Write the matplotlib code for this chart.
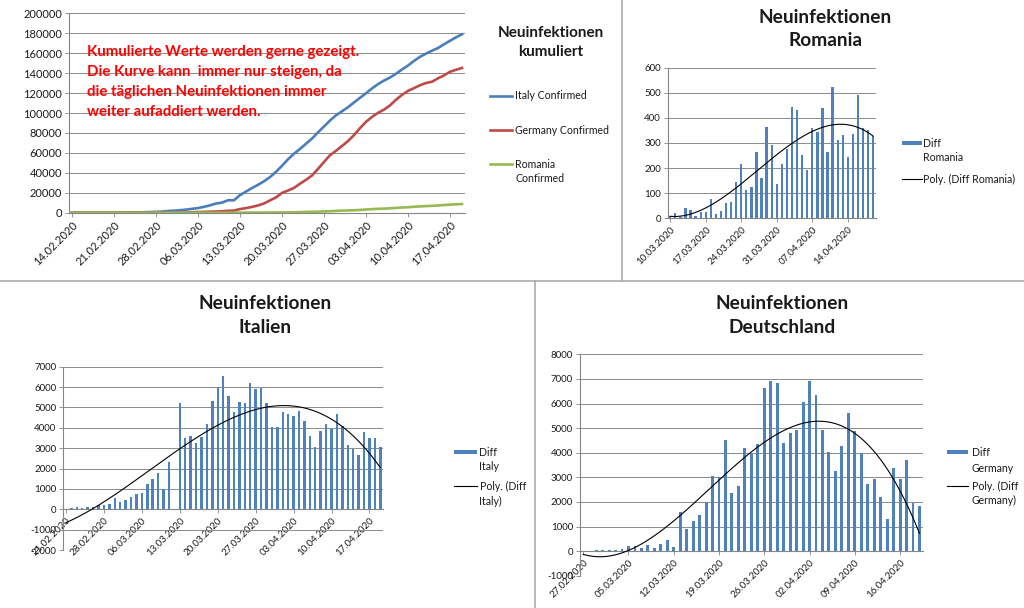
import numpy as np
import pandas as pd
import matplotlib
matplotlib.use("Agg")
import matplotlib.pyplot as plt
from matplotlib import ticker
from matplotlib.lines import Line2D
from matplotlib.patches import Rectangle

# cumulative confirmed cases, one value per day 14.02.2020 .. 19.04.2020
dates = pd.date_range("2020-02-14", "2020-04-19", freq="D")

italy_confirmed = [
    3, 3, 3, 3, 3, 3, 3, 20, 62, 155, 229, 322, 453, 655, 888, 1128,
    1694, 2036, 2502, 3089, 3858, 4636, 5883, 7375, 9172, 10149, 12462, 12462,
    17660, 21157, 24747, 27980, 31506, 35713, 41035, 47021, 53578, 59138, 63927,
    69176, 74386, 80589, 86498, 92472, 97689, 101739, 105792,
    110574, 115242, 119827, 124632, 128948, 132547, 135586, 139422, 143626,
    147577, 152271, 156363, 159516, 162488, 165155, 168941, 172434, 175925, 178972]

germany_confirmed = [
    16, 16, 16, 16, 16, 16, 16, 16, 16, 16, 16, 17, 27, 46, 48, 79,
    130, 159, 196, 262, 482, 670, 799, 1040, 1176, 1457, 1908, 2078,
    3675, 4585, 5795, 7272, 9257, 12327, 15320, 19848, 22213, 24873, 29056,
    32986, 37323, 43938, 50871, 57695, 62095, 66885, 71808,
    77872, 84794, 91159, 96092, 100123, 103374, 107663, 113296, 118181,
    122171, 124908, 127854, 130072, 131359, 134753, 137698, 141397, 143342, 145184]

romania_confirmed = [
    0, 0, 0, 0, 0, 0, 0, 0, 0, 0, 0, 0, 1, 1, 3, 3,
    3, 3, 3, 4, 6, 9, 9, 15, 15, 25, 45, 49,
    89, 123, 131, 158, 184, 260, 277, 308, 367, 433, 576,
    794, 906, 1029, 1292, 1452, 1815, 2109, 2245,
    2460, 2738, 3183, 3613, 3864, 4057, 4417, 4761, 5202,
    5467, 5990, 6300, 6633, 6879, 7216, 7707, 8067, 8418, 8746]

# first day of each daily-difference chart
italy_start = "2020-02-21"
germany_start = "2020-02-27"
romania_start = "2020-03-10"

trend_degree = 3

plt.rcParams['font.family'] = ['Lato', 'DejaVu Sans']
plt.rcParams['axes.unicode_minus'] = False

W, H = 1024, 608
BLUE_BAR = '#4F81BD'
GRID = '#8C8C8C'
AXIS = '#868686'
TXT = '#1A1A1A'
SEP = '#A6A6A6'
LEG_FS = 7.6

fig = plt.figure(figsize=(W / 100, H / 100), dpi=100)
fig.patch.set_facecolor('white')


def add_ax(x0, y0, x1, y1):
    return fig.add_axes([x0 / W, 1 - y1 / H, (x1 - x0) / W, (y1 - y0) / H])


def fig_text(x, y, s, **kw):
    fig.text(x / W, 1 - y / H, s, **kw)


def fig_line(x0, y0, x1, y1, color, lw):
    fig.add_artist(Line2D([x0 / W, x1 / W], [1 - y0 / H, 1 - y1 / H], color=color, lw=lw))


def fig_patch(x0, x1, y, h, color):
    fig.add_artist(Rectangle((x0 / W, 1 - (y + h / 2) / H), (x1 - x0) / W, h / H,
                             facecolor=color, edgecolor='none'))


def style_axis(ax, day_labels, ylim, ystep, fs):
    n = len(day_labels)
    ax.set_xlim(-0.5, n - 0.5)
    ax.set_ylim(*ylim)
    ax.set_yticks(np.arange(ylim[0], ylim[1] + 1, ystep))
    ax.yaxis.set_major_formatter(ticker.FuncFormatter(lambda v, p: '%d' % v))
    ax.yaxis.grid(True, color=GRID, lw=0.7)
    ax.set_axisbelow(True)
    ax.set_facecolor('white')
    for s in ['top', 'right']:
        ax.spines[s].set_visible(False)
    ax.spines['left'].set_color(AXIS)
    ax.spines['bottom'].set_color(AXIS)
    ax.spines['bottom'].set_position(('data', 0))
    pos = list(range(0, n, 7))
    ax.set_xticks(pos)
    ax.set_xticklabels([day_labels[i] for i in pos], rotation=45, ha='right', va='top',
                       rotation_mode='anchor')
    ax.tick_params(axis='both', labelsize=fs, color=AXIS, labelcolor=TXT, length=3, width=0.6, pad=2)


# ---------------- cumulative chart ----------------
labels_all = [d.strftime('%d.%m.%Y') for d in dates]
ax = add_ax(69, 13.3, 465, 212.7)
x = np.arange(len(dates))
ax.plot(x, italy_confirmed, color='#4A7EBB', lw=1.9, label='Italy Confirmed')
ax.plot(x, germany_confirmed, color='#BE4B48', lw=1.9, label='Germany Confirmed')
ax.plot(x, romania_confirmed, color='#98B954', lw=1.9, label='Romania Confirmed')
style_axis(ax, labels_all, (0, 200000), 20000, 8)

fig_text(87, 82, 'Kumulierte Werte werden gerne gezeigt.\nDie Kurve kann  immer nur steigen, da\n'
         'die täglichen Neuinfektionen immer\nweiter aufaddiert werden.',
         color='#FF0000', fontsize=10.8, fontweight='bold', ha='left', va='center', linespacing=1.54)

fig_text(551, 42.5, 'Neuinfektionen\nkumuliert', fontsize=11, fontweight='bold', color=TXT,
         ha='center', va='center', linespacing=1.53)
fig_line(490, 95.5, 512, 95.5, '#4A7EBB', 1.9)
fig_text(515, 95.5, 'Italy Confirmed', fontsize=LEG_FS, color=TXT, va='center')
fig_line(490, 130, 512, 130, '#BE4B48', 1.9)
fig_text(515, 130, 'Germany Confirmed', fontsize=LEG_FS, color=TXT, va='center')
fig_line(490, 164.5, 512, 164.5, '#98B954', 1.9)
fig_text(515, 164.5, 'Romania', fontsize=LEG_FS, color=TXT, va='center')
fig_text(515, 178.5, 'Confirmed', fontsize=LEG_FS, color=TXT, va='center')


# ---------------- daily difference charts ----------------
def diff_chart(cum, start, rect, ylim, ystep, title, title_xy, leg_x, leg_y):
    daily = pd.Series(cum, index=dates, dtype=float).diff().loc[start:]
    n = len(daily)
    labels = [d.strftime('%d.%m.%Y') for d in daily.index]
    a = add_ax(*rect)
    a.bar(np.arange(n), daily.values, width=0.45, color=BLUE_BAR, zorder=2)
    xs = np.arange(1, n + 1)
    coef = np.polyfit(xs, daily.values, trend_degree)
    xx = np.linspace(1, n, 300)
    a.plot(xx - 1, np.polyval(coef, xx), color='black', lw=0.8, zorder=3)
    style_axis(a, labels, ylim, ystep, 7)

    fig_text(title_xy[0], title_xy[1], 'Neuinfektionen\n' + title, fontsize=13.8, fontweight='bold',
             color=TXT, ha='center', va='center', linespacing=1.47)
    lx0, lx1 = leg_x
    fig_patch(lx0, lx1, leg_y[0], 4, BLUE_BAR)
    fig_line(lx0, leg_y[1], lx1, leg_y[1], 'black', 0.8)
    return a


ax_ro = diff_chart(romania_confirmed, romania_start, (667.7, 67.7, 875.7, 218.3), (0, 600), 100,
                   'Romania', (825, 29.2), (901.7, 921.7), (143.3, 179))
fig_text(923, 143.3, 'Diff', fontsize=LEG_FS, color=TXT, va='center')
fig_text(923, 157.3, 'Romania', fontsize=LEG_FS, color=TXT, va='center')
fig_text(923, 179, 'Poly. (Diff Romania)', fontsize=LEG_FS, color=TXT, va='center')

ax_it = diff_chart(italy_confirmed, italy_start, (63.3, 366.7, 383, 550), (-2000, 7000), 1000,
                   'Italien', (265, 315.3), (454, 476.7), (452, 486))
fig_text(479.5, 452, 'Diff', fontsize=LEG_FS, color=TXT, va='center')
fig_text(479.5, 466.7, 'Italy', fontsize=LEG_FS, color=TXT, va='center')
fig_text(479.5, 486, 'Poly. (Diff', fontsize=LEG_FS, color=TXT, va='center')
fig_text(479.5, 501, 'Italy)', fontsize=LEG_FS, color=TXT, va='center')

ax_de = diff_chart(germany_confirmed, germany_start, (580, 354.3, 922.7, 575.7), (-1000, 8000), 1000,
                   'Deutschland', (781.7, 315.5), (946.7, 968.3), (452.3, 486))
fig_text(971.7, 452.3, 'Diff', fontsize=LEG_FS, color=TXT, va='center')
fig_text(971.7, 468.3, 'Germany', fontsize=LEG_FS, color=TXT, va='center')
fig_text(971.7, 486, 'Poly. (Diff', fontsize=LEG_FS, color=TXT, va='center')
fig_text(971.7, 500, 'Germany)', fontsize=LEG_FS, color=TXT, va='center')

# separators between the four pasted charts
fig_line(622, 0, 622, 280.7, SEP, 1.1)
fig_line(0, 280.7, W, 280.7, SEP, 1.1)
fig_line(534.5, 280.7, 534.5, H, SEP, 1.1)

fig.savefig('out.png', dpi=100, facecolor='white')
